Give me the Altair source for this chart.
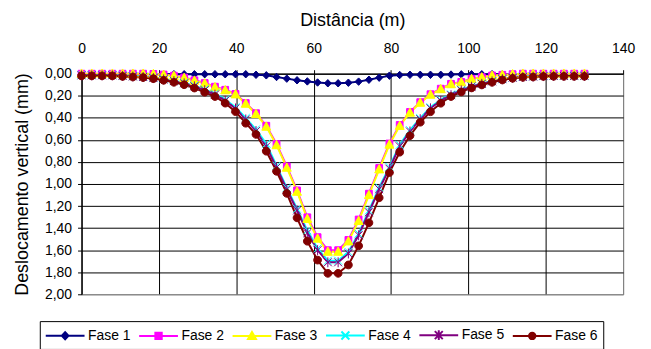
import altair as alt
import pandas as pd

# ---------------- data ----------------
names = ["Fase 1", "Fase 2", "Fase 3", "Fase 4", "Fase 5", "Fase 6"]

distancia = [0.00, 2.65, 5.31, 7.96, 10.61, 13.27, 15.92, 18.57, 21.22, 23.88,
             26.53, 29.18, 31.84, 34.49, 37.14, 39.80, 42.45, 45.10, 47.76, 50.41,
             53.06, 55.71, 58.37, 61.02, 63.67, 66.33, 68.98, 71.63, 74.29, 76.94,
             79.59, 82.24, 84.90, 87.55, 90.20, 92.86, 95.51, 98.16, 100.82, 103.47,
             106.12, 108.78, 111.43, 114.08, 116.73, 119.39, 122.04, 124.69, 127.35, 130.00]

fase1 = [0.005, 0.005, 0.005, 0.005, 0.005, 0.005, 0.005, 0.005, 0.005, 0.005,
         0.005, 0.005, 0.005, 0.005, 0.005, 0.005, 0.005, 0.010, 0.015, 0.030,
         0.045, 0.060, 0.070, 0.080, 0.087, 0.087, 0.082, 0.072, 0.055, 0.036,
         0.018, 0.012, 0.010, 0.010, 0.010, 0.010, 0.008, 0.006, 0.005, 0.005,
         0.005, 0.005, 0.005, 0.005, 0.005, 0.005, 0.005, 0.005, 0.005, 0.005]

fase2 = [0.000, 0.000, 0.000, 0.000, 0.000, 0.000, 0.000, 0.002, 0.008, 0.018,
         0.035, 0.060, 0.085, 0.118, 0.146, 0.183, 0.266, 0.358, 0.472, 0.638,
         0.840, 1.058, 1.302, 1.482, 1.600, 1.600, 1.507, 1.322, 1.088, 0.855,
         0.633, 0.465, 0.347, 0.258, 0.186, 0.136, 0.092, 0.075, 0.046, 0.031,
         0.016, 0.010, 0.004, 0.000, 0.000, 0.000, 0.000, 0.000, 0.000, 0.000]

fase3 = [0.000, 0.000, 0.000, 0.000, 0.000, 0.000, 0.000, 0.003, 0.010, 0.020,
         0.038, 0.063, 0.088, 0.122, 0.150, 0.187, 0.272, 0.365, 0.480, 0.648,
         0.852, 1.070, 1.316, 1.495, 1.614, 1.614, 1.520, 1.335, 1.100, 0.867,
         0.643, 0.473, 0.353, 0.263, 0.190, 0.140, 0.095, 0.078, 0.048, 0.033,
         0.018, 0.012, 0.005, 0.000, 0.000, 0.000, 0.000, 0.000, 0.000, 0.000]

fase4 = [0.012, 0.012, 0.012, 0.012, 0.017, 0.022, 0.027, 0.036, 0.048, 0.063,
         0.082, 0.108, 0.142, 0.180, 0.235, 0.305, 0.402, 0.505, 0.635, 0.835,
         1.035, 1.225, 1.420, 1.585, 1.695, 1.695, 1.615, 1.450, 1.240, 1.032,
         0.846, 0.645, 0.512, 0.403, 0.305, 0.238, 0.188, 0.146, 0.113, 0.088,
         0.066, 0.047, 0.034, 0.027, 0.023, 0.020, 0.018, 0.018, 0.018, 0.018]

fase5 = [0.015, 0.015, 0.015, 0.015, 0.020, 0.025, 0.030, 0.040, 0.052, 0.068,
         0.088, 0.115, 0.150, 0.190, 0.245, 0.315, 0.415, 0.520, 0.660, 0.850,
         1.050, 1.240, 1.445, 1.600, 1.710, 1.710, 1.630, 1.465, 1.256, 1.047,
         0.861, 0.658, 0.524, 0.413, 0.314, 0.246, 0.195, 0.152, 0.118, 0.092,
         0.070, 0.050, 0.037, 0.030, 0.026, 0.022, 0.020, 0.020, 0.020, 0.020]

fase6 = [0.020, 0.020, 0.020, 0.020, 0.025, 0.030, 0.035, 0.045, 0.060, 0.078,
         0.100, 0.130, 0.168, 0.207, 0.267, 0.344, 0.449, 0.550, 0.703, 0.885,
         1.085, 1.307, 1.519, 1.690, 1.810, 1.810, 1.734, 1.561, 1.352, 1.125,
         0.897, 0.712, 0.562, 0.440, 0.345, 0.268, 0.207, 0.165, 0.129, 0.102,
         0.078, 0.057, 0.042, 0.033, 0.030, 0.025, 0.024, 0.024, 0.024, 0.024]

x_ticks = [0, 20, 40, 60, 80, 100, 120, 140]
y_ticks = [0.0, 0.2, 0.4, 0.6, 0.8, 1.0, 1.2, 1.4, 1.6, 1.8, 2.0]

# ---------------- styles ----------------
colors = ["#000080", "#FF00FF", "#FFFF00", "#00FFFF", "#800080", "#800000"]

marker_paths = [
    "M0,-0.75L0.72,0L0,0.75L-0.72,0Z",                          # diamond
    "M-0.68,-0.68L0.68,-0.68L0.68,0.68L-0.68,0.68Z",            # square
    "M0,-0.95L0.9,0.72L-0.9,0.72Z",                             # triangle
    "M-0.8,-0.8L0.8,0.8M-0.8,0.8L0.8,-0.8",                     # x
    "M-0.8,-0.8L0.8,0.8M-0.8,0.8L0.8,-0.8M0,-1L0,1",            # asterisk
    "M-0.78,0A0.78,0.78,0,1,0,0.78,0A0.78,0.78,0,1,0,-0.78,0Z", # circle
]

legend_paths = [
    "M-2.44,0L2.44,0M0,-0.45L0.42,0L0,0.45L-0.42,0Z",
    "M-2.44,0L2.44,0M-0.4,-0.4L0.4,-0.4L0.4,0.4L-0.4,0.4Z",
    "M-2.44,0L2.44,0M0,-0.5L0.5,0.38L-0.5,0.38Z",
    "M-2.44,0L2.44,0M-0.5,-0.5L0.5,0.5M-0.5,0.5L0.5,-0.5",
    "M-2.44,0L2.44,0M-0.5,-0.5L0.5,0.5M-0.5,0.5L0.5,-0.5M0,-0.6L0,0.6",
    "M-2.44,0L2.44,0M-0.4,0A0.4,0.4,0,1,0,0.4,0A0.4,0.4,0,1,0,-0.4,0Z",
]

rows = []
for k, (name, vals) in enumerate(zip(names, [fase1, fase2, fase3, fase4, fase5, fase6])):
    for xv, yv in zip(distancia, vals):
        rows.append({"serie": name, "x": xv, "y": yv, "ord": k})
df = pd.DataFrame(rows)

FONT = "Liberation Sans"

x_enc = alt.X(
    "x:Q",
    scale=alt.Scale(domain=[0, 140], nice=False, zero=False),
    axis=alt.Axis(
        orient="top", values=x_ticks, title="Distância (m)", format="d",
        labelFlush=False, labelPadding=14, titlePadding=12,
        gridColor={"condition": {"test": "datum.value === 140", "value": "#808080"}, "value": "#000000"},
    ),
)
y_enc = alt.Y(
    "y:Q",
    scale=alt.Scale(domain=[0, 2], reverse=True, nice=False, zero=False),
    axis=alt.Axis(
        values=y_ticks, title="Deslocamento vertical (mm)",
        labelExpr="replace(format(datum.value, '.2f'), '.', ',')",
        labelFlush=False, labelPadding=6, titlePadding=13,
        gridColor={"condition": {"test": "datum.value === 2", "value": "#808080"}, "value": "#000000"},
    ),
)

lines = alt.Chart(df).mark_line(strokeWidth=2).encode(
    x=x_enc, y=y_enc,
    color=alt.Color("serie:N", scale=alt.Scale(domain=names, range=colors), legend=None),
)

points = alt.Chart(df).mark_point(filled=True, size=100, strokeWidth=1, opacity=1).encode(
    x=x_enc, y=y_enc,
    shape=alt.Shape("serie:N", scale=alt.Scale(domain=names, range=marker_paths), legend=None),
    fill=alt.Fill("serie:N", scale=alt.Scale(domain=names, range=colors), legend=None),
    stroke=alt.Stroke("serie:N", scale=alt.Scale(domain=names, range=colors), legend=None),
    order=alt.Order("ord:Q"),
)

leg = alt.Legend(
    title=None, orient="none", legendX=-42, legendY=249, direction="horizontal",
    columns=6, symbolSize=256, symbolStrokeWidth=2, symbolOffset=11.5,
    labelOffset=14, labelFontSize=14, labelFont=FONT, labelColor="#000000",
    columnPadding=3, padding=5, strokeColor="#000000", fillColor="#ffffff",
)

legend_layer = alt.Chart(df).transform_filter("datum.x < -1").mark_point(
    filled=True, size=256, strokeWidth=2, opacity=1
).encode(
    x=x_enc, y=y_enc,
    shape=alt.Shape("serie:N", scale=alt.Scale(domain=names, range=legend_paths), legend=leg),
    fill=alt.Fill("serie:N", scale=alt.Scale(domain=names, range=colors), legend=leg),
    stroke=alt.Stroke("serie:N", scale=alt.Scale(domain=names, range=colors), legend=leg),
)

chart = alt.layer(lines, points, legend_layer).resolve_scale(
    shape="independent", fill="independent", stroke="independent", color="independent"
).resolve_legend(
    shape="independent", fill="independent", stroke="independent", color="independent"
).properties(
    width=545, height=222,
    padding={"left": 74, "top": 65, "right": 20, "bottom": 60},
    autosize=alt.AutoSizeParams(type="none"),
).configure(
    font=FONT,
).configure_view(
    stroke="#808080", strokeWidth=1,
).configure_axis(
    gridColor="#000000", gridOpacity=1, gridWidth=1,
    domainColor="#000000", domainWidth=1,
    tickColor="#000000", tickSize=4, tickWidth=1,
    labelFontSize=14, labelColor="#000000", labelFont=FONT,
    titleFontSize=18, titleFontWeight="normal", titleColor="#000000", titleFont=FONT,
)

chart.save("out.html", embed_options={"renderer": "svg", "actions": False})
